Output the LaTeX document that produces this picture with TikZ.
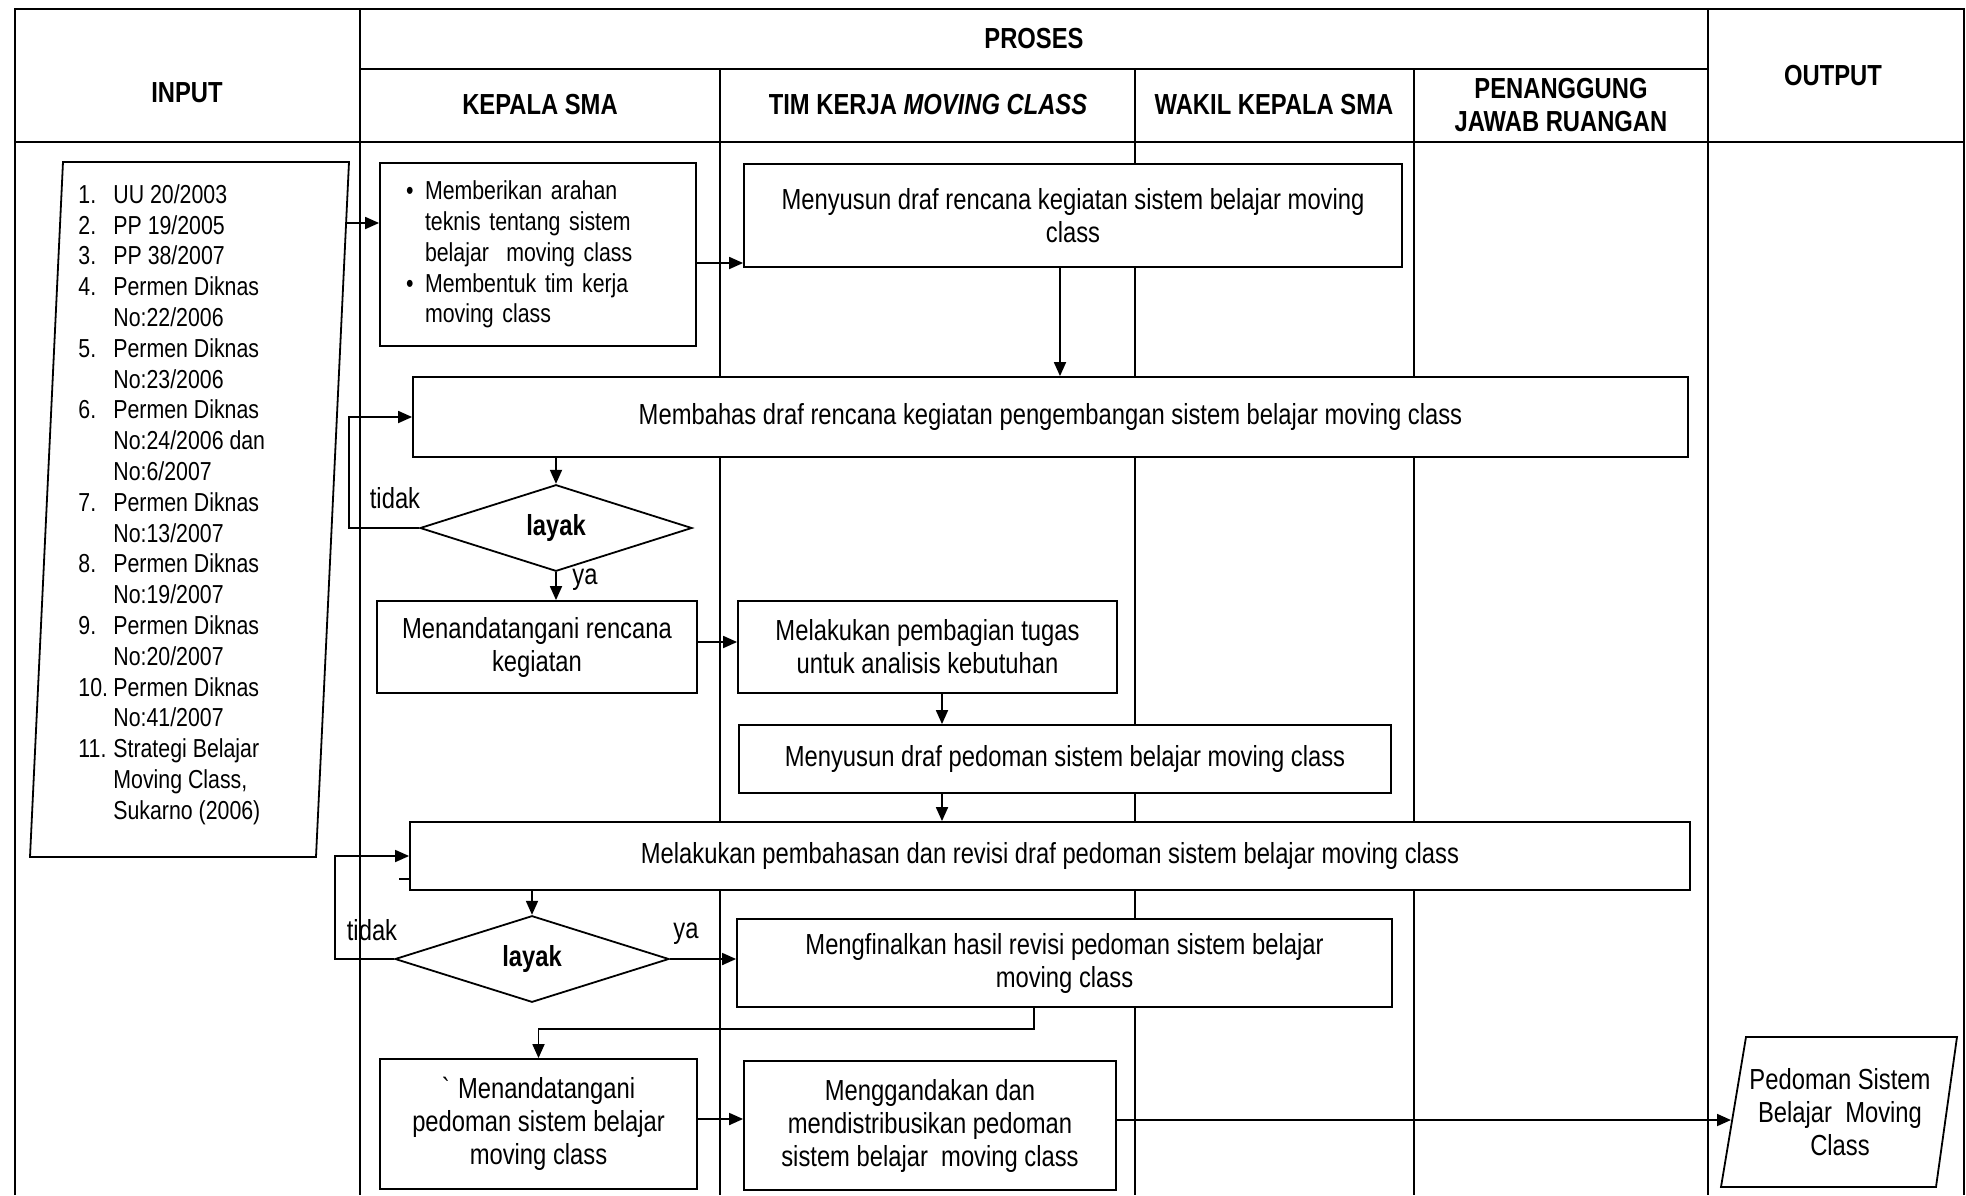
\documentclass[tikz,border=0pt]{standalone}
\usepackage{fontspec}
\setmainfont[FakeStretch=0.82]{Liberation Sans}
\usetikzlibrary{shapes.geometric,arrows.meta}
\newcommand{\boxfont}{\fontsize{14.5}{16.5}\selectfont}
\newcommand{\inpfont}{\fontsize{13}{15.4}\selectfont}
\newcommand{\inpnum}[1]{\makebox[17.5pt][l]{#1}}
\newcommand{\inpind}{\hspace*{17.5pt}}
\newcommand{\bul}{\makebox[9.5pt][l]{\textbullet}}

\begin{document}
\begin{tikzpicture}[x=0.5pt,y=-0.5pt,
  >={Triangle[length=7pt,width=6pt]},
  tabline/.style={line width=1pt},
  box/.style={draw, line width=0.9pt, fill=white, align=center, inner sep=0pt, font=\boxfont},
  dec/.style={diamond, draw, line width=0.9pt, fill=white, inner sep=0pt, font=\boxfont\bfseries},
  head/.style={font=\boxfont\bfseries, align=center},
  lbl/.style={font=\boxfont}]
\useasboundingbox (0,0) rectangle (1966,1195);
% table
\coordinate (tl) at (15,9);
\coordinate (tr) at (1964,9);
\coordinate (bl) at (15,1195);
\coordinate (br) at (1964,1195);
\draw[tabline] (bl) -- (tl) -- (tr) -- (br);
\draw[tabline] (360,69) -- (1708,69);
\draw[tabline] (15,142) -- (1964,142);
\draw[tabline] (360,9) -- (360,1195);
\draw[tabline] (1708,9) -- (1708,1195);
\foreach \x in {720,1135,1414}
  \draw[tabline] (\x,69) -- (\x,1195);

\node[head] (hin) at (187,93) {INPUT};
\node[head] (hpro) at (1034,39) {PROSES};
\node[head] (hout) at (1833,76) {OUTPUT};
\node[head] (hkep) at (540,105) {KEPALA SMA};
\node[head] (htim) at (928,105) {TIM KERJA \textit{MOVING CLASS}};
\node[head] (hwak) at (1274,105) {WAKIL KEPALA SMA};
\node[head] (hpj) at (1561,105) {PENANGGUNG\\JAWAB RUANGAN};

% input
\coordinate (in1) at (63,162);
\coordinate (in2) at (349,162);
\coordinate (in3) at (316,857);
\coordinate (in4) at (30,857);
\coordinate (inR) at (347,223);
\draw[line width=0.9pt] (in1) -- (in2) -- (in3) -- (in4) -- cycle;
\node[align=left, font=\inpfont, inner sep=0pt, anchor=west] (inlist) at (78,504.5) {%
\inpnum{1.}UU 20/2003\\
\inpnum{2.}PP 19/2005\\
\inpnum{3.}PP 38/2007\\
\inpnum{4.}Permen Diknas\\
\inpind No:22/2006\\
\inpnum{5.}Permen Diknas\\
\inpind No:23/2006\\
\inpnum{6.}Permen Diknas\\
\inpind No:24/2006 dan\\
\inpind No:6/2007\\
\inpnum{7.}Permen Diknas\\
\inpind No:13/2007\\
\inpnum{8.}Permen Diknas\\
\inpind No:19/2007\\
\inpnum{9.}Permen Diknas\\
\inpind No:20/2007\\
\inpnum{10.}Permen Diknas\\
\inpind No:41/2007\\
\inpnum{11.}Strategi Belajar\\
\inpind Moving Class,\\
\inpind Sukarno (2006)};

% proses
\node[box, minimum width=158pt, minimum height=91.5pt, align=left, text width=132pt, font=\inpfont] (boxA) at (538,254.5) {%
\bul Memberikan arahan\\
\inpind\hspace*{-8pt}teknis tentang sistem\\
\inpind\hspace*{-8pt}belajar\ \ moving class\\
\bul Membentuk tim kerja\\
\inpind\hspace*{-8pt}moving class};
\node[box, minimum width=329pt, minimum height=51.5pt] (boxB) at (1073,215.5) {Menyusun draf rencana kegiatan sistem belajar moving\\class};
\node[box, minimum width=637.5pt, minimum height=40pt] (boxC) at (1050.5,417) {Membahas draf rencana kegiatan pengembangan sistem belajar moving class};
\node[dec, minimum width=136pt, minimum height=38.5pt] (dec1) at (556,528) {layak};
\node[box, minimum width=160pt, minimum height=46pt] (boxD) at (537,647) {Menandatangani rencana\\kegiatan};
\node[box, minimum width=189.5pt, minimum height=46pt] (boxE) at (927.5,647) {Melakukan pembagian tugas\\untuk analisis kebutuhan};
\node[box, minimum width=326pt, minimum height=34pt] (boxF) at (1065,759) {Menyusun draf pedoman sistem belajar moving class};
\node[box, minimum width=640pt, minimum height=34pt] (boxG) at (1050,856) {Melakukan pembahasan dan revisi draf pedoman sistem belajar moving class};
\node[dec, minimum width=137pt, minimum height=38.5pt] (dec2) at (532,959) {layak};
\node[box, minimum width=327.5pt, minimum height=44pt] (boxH) at (1064.5,963) {Mengfinalkan hasil revisi pedoman sistem belajar\\moving class};
\node[box, minimum width=158.5pt, minimum height=65pt] (boxI) at (538.5,1124) {\textasciigrave{} Menandatangani\\pedoman sistem belajar\\moving class};
\node[box, minimum width=186pt, minimum height=64.5pt] (boxJ) at (930,1125.5) {Menggandakan dan\\mendistribusikan pedoman\\sistem belajar\ \ moving class};

% output
\coordinate (out1) at (1746,1037);
\coordinate (out2) at (1957,1037);
\coordinate (out3) at (1936,1187);
\coordinate (out4) at (1721,1187);
\coordinate (outL) at (1731,1120);
\draw[line width=0.9pt] (out1) -- (out2) -- (out3) -- (out4) -- cycle;
\node[align=center, font=\boxfont] (outtxt) at (1840,1112) {Pedoman Sistem\\Belajar\ \ Moving\\Class};

% arrows
\draw[->, line width=0.9pt] (inR) -- (inR -| boxA.west);
\draw[->, line width=0.9pt] ([yshift=-4.25pt]boxA.east) -- ([yshift=-4.25pt]boxA.east -| boxB.west);
\draw[->, line width=0.9pt] ([xshift=-6.5pt]boxB.south) -- ([xshift=-6.5pt]boxB.south |- boxC.north);
\draw[->, line width=0.9pt] (dec1.north |- boxC.south) -- (dec1.north);
\draw[->, line width=0.9pt] (dec1.west) -- ++(-35pt,0) |- (boxC.west);
\draw[->, line width=0.9pt] (dec1.south) -- (dec1.south |- boxD.north);
\draw[->, line width=0.9pt] ([yshift=2.5pt]boxD.east) -- ([yshift=2.5pt]boxD.east -| boxE.west);
\draw[->, line width=0.9pt] ([xshift=7.25pt]boxE.south) -- ([xshift=7.25pt]boxE.south |- boxF.north);
\draw[->, line width=0.9pt] ([xshift=-61.5pt]boxF.south) -- ([xshift=-61.5pt]boxF.south |- boxG.north);
\draw[line width=0.9pt] ([yshift=-11.5pt]boxG.west) -- ++(-5pt,0);
\draw[->, line width=0.9pt] (dec2.north |- boxG.south) -- (dec2.north);
\draw[->, line width=0.9pt] (dec2.west) -- ++(-29.5pt,0) |- (boxG.west);
\draw[->, line width=0.9pt] (dec2.east) -- (dec2.east -| boxH.west);
\draw[->, line width=0.9pt] ([xshift=-15.25pt]boxH.south) -- ++(0,-10.5pt) -| (boxI.north);
\draw[->, line width=0.9pt] ([yshift=2.5pt]boxI.east) -- ([yshift=2.5pt]boxI.east -| boxJ.west);
\draw[->, line width=0.9pt] (boxJ.east |- outL) -- (outL);

\node[lbl] (tidak1) at (395,498) {tidak};
\node[lbl] (ya1) at (585,580) {ya};
\node[lbl] (tidak2) at (372,930) {tidak};
\node[lbl] (ya2) at (686,934) {ya};
\end{tikzpicture}
\end{document}
